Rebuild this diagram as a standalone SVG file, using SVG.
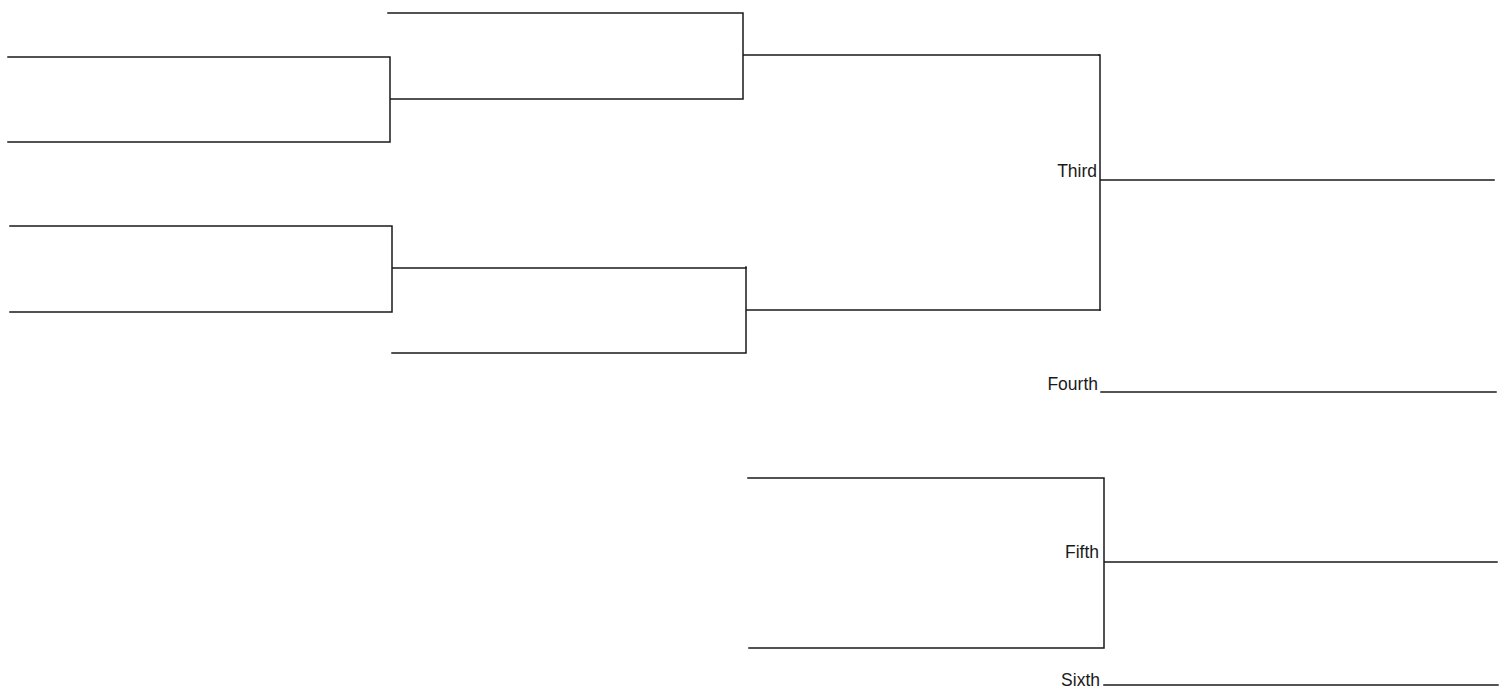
<svg xmlns="http://www.w3.org/2000/svg" width="1501" height="698" viewBox="0 0 1501 698">
<style>
.ln{fill:none;stroke:#1a1a1a;stroke-width:1.5;stroke-linejoin:miter;stroke-linecap:square}
.lb{font-family:"Liberation Sans",Arial,sans-serif;font-size:17.5px;fill:#1a1a1a;text-anchor:end}
</style>
<rect width="1501" height="698" fill="#ffffff"/>
<g id="connectors">
  <g id="round1-a"><path class="ln" d="M8,57 H390 V142 H8 M390,99 H743"/></g>
  <g id="round1-b"><path class="ln" d="M388,13 H743 V98 M743,55 H1099"/></g>
  <g id="round1-c"><path class="ln" d="M10,226 H392 V312 H10 M392,268 H746"/></g>
  <g id="round1-d"><path class="ln" d="M392,353 H746 V267 M746,310 H1100"/></g>
  <g id="final"><path class="ln" d="M1099,55 H1100 V310 M1100,180 H1494"/></g>
  <g id="fifth-match"><path class="ln" d="M748,478 H1104 V648 H749 M1104,562 H1497"/></g>
</g>
<g id="third"><text class="lb" x="1097" y="177">Third</text></g>
<g id="fourth"><text class="lb" x="1098" y="390">Fourth</text><path class="ln" d="M1101,392 H1496"/></g>
<g id="fifth"><text class="lb" x="1099" y="558">Fifth</text></g>
<g id="sixth"><text class="lb" x="1100" y="686">Sixth</text><path class="ln" d="M1104,685 H1498"/></g>
</svg>
